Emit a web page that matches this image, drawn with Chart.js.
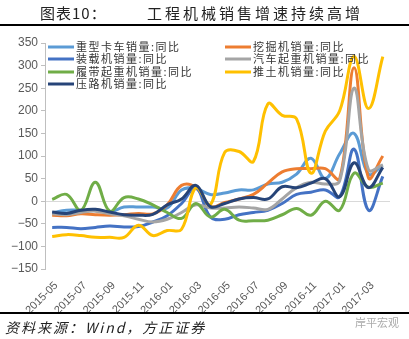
<!DOCTYPE html>
<html>
<head>
<meta charset="utf-8">
<script src="https://cdn.jsdelivr.net/npm/chart.js@4.4.1/dist/chart.umd.min.js"></script>
<style>
  html, body { margin: 0; padding: 0; background: #fff; }
  #wrap { position: relative; width: 409px; height: 339px; overflow: hidden; }
  #chart { position: absolute; left: 0; top: 0; }
  .t { position: absolute; font-family: "Noto Sans CJK SC", sans-serif; color: #222; white-space: nowrap; }
  #title1 { left: 40px; top: 2px; font-size: 15px; letter-spacing: 1px; }
  #title2 { left: 147px; top: 2px; font-size: 15px; letter-spacing: 3px; }
  .rule { position: absolute; left: 0; width: 409px; background: #000; }
  #src { left: 5px; top: 317px; font-size: 14px; font-style: italic; letter-spacing: 2px; }
  #mark { left: 355px; top: 314px; font-size: 11px; color: #aaa; }
</style>
</head>
<body>
<div id="wrap">
  <canvas id="chart" width="409" height="339"></canvas>
  <div class="t" id="title1">图表10：</div>
  <div class="t" id="title2">工程机械销售增速持续高增</div>
  <div class="rule" style="top:24px;height:2px"></div>
  <div class="rule" style="top:312px;height:2px"></div>
  <div class="t" id="src">资料来源：Wind，方正证券</div>
  <div class="t" id="mark">岸平宏观</div>
</div>
<script>
// 月份 2015-05 ~ 2017-04
const months = [
  '2015-05', '2015-06', '2015-07', '2015-08', '2015-09', '2015-10',
  '2015-11', '2015-12', '2016-01', '2016-02', '2016-03', '2016-04',
  '2016-05', '2016-06', '2016-07', '2016-08', '2016-09', '2016-10',
  '2016-11', '2016-12', '2017-01', '2017-02', '2017-03', '2017-04'
];

// 各机种销量同比(%)
const heavyTruck = [-26, -20, -20, -20, -24, -13, -13, -13, -15, 25, 28, 15, 18, 25, 25, 38, 42, 60, 95, 50, 105, 150, 60, 80];
const excavator  = [-31, -32, -28, -30, -31, -30, -27, -28, -8, 35, 30, -12, -3, 5, 15, 40, 65, 72, 72, 72, 50, 295, 52, 100];
const loader     = [-58, -58, -61, -58, -55, -57, -56, -46, -32, -5, 30, -35, -40, -30, -25, -20, -5, 15, 20, 25, 10, 115, -20, 55];
const truckCrane = [-28, -30, -25, -22, -28, -32, -40, -46, -40, -25, -8, -15, -15, -13, -15, -18, 5, 30, 42, 38, 45, 250, 70, 80];
const crawlerCrane = [4, 15, -20, 42, -22, 8, 5, -8, -25, -38, -5, -35, -18, -42, -43, -42, -30, -16, -31, 0, -20, 62, 31, 40];
const bulldozer  = [-78, -74, -76, -80, -80, -80, -53, -76, -65, -62, 30, -8, 108, 110, 88, 215, 190, 182, 62, 155, 200, 320, 205, 320];
const roller     = [-24, -27, -20, -18, -24, -30, -31, -29, -8, 5, 35, -12, -5, 5, 8, 5, 32, 30, 40, 50, 10, 85, 30, 75];

const seriesNames = [
  '重型卡车销量:同比', '挖掘机销量:同比', '装载机销量:同比', '汽车起重机销量:同比',
  '履带起重机销量:同比', '推土机销量:同比', '压路机销量:同比'
];
const seriesData = [heavyTruck, excavator, loader, truckCrane, crawlerCrane, bulldozer, roller];
const seriesColors = ['#5B9BD5', '#ED7D31', '#4472C4', '#A5A5A5', '#70AD47', '#FFC000', '#264478'];

// y 轴刻度
const yMin = -150, yMax = 350, yStep = 50;

// 图例两列，行序与 Excel 一致
const legendSlots = [
  [48, 47], [225, 47], [48, 59], [225, 59], [48, 72], [225, 72], [48, 84]
];

const legendPlugin = {
  id: 'twoColLegend',
  afterDraw(chart) {
    const ctx = chart.ctx;
    ctx.save();
    ctx.font = '11px "Noto Sans CJK SC"';
    ctx.letterSpacing = '1.5px';
    ctx.textBaseline = 'middle';
    chart.data.datasets.forEach((ds, i) => {
      const [x, y] = legendSlots[i];
      ctx.strokeStyle = ds.borderColor;
      ctx.lineWidth = 3;
      ctx.beginPath();
      ctx.moveTo(x, y);
      ctx.lineTo(x + 26, y);
      ctx.stroke();
      ctx.fillStyle = '#333';
      ctx.fillText(ds.label, x + 28, y);
    });
    ctx.restore();
  }
};

new Chart(document.getElementById('chart'), {
  type: 'line',
  data: {
    labels: months,
    datasets: seriesData.map((d, i) => ({
      label: seriesNames[i],
      data: d,
      borderColor: seriesColors[i],
      backgroundColor: seriesColors[i],
      borderWidth: 3,
      tension: 0.4,
      pointRadius: 0,
      fill: false,
      order: seriesData.length - i
    }))
  },
  options: {
    responsive: false,
    animation: false,
    layout: { padding: { top: 43, left: 0, right: 19, bottom: 26 } },
    plugins: {
      legend: { display: false },
      tooltip: { enabled: false }
    },
    scales: {
      x: {
        offset: true,
        grid: { display: false },
        border: { display: false },
        ticks: {
          autoSkip: false,
          maxRotation: 45,
          minRotation: 45,
          padding: 2,
          labelOffset: 4,
          color: '#595959',
          font: { family: 'Liberation Sans', size: 11 },
          callback: function(val, idx) {
            return idx % 2 === 0 ? this.getLabelForValue(val) : '';
          }
        },
        afterFit(scale) { scale.height = 44; }
      },
      y: {
        min: yMin,
        max: yMax,
        ticks: {
          stepSize: yStep,
          color: '#595959',
          padding: 3,
          font: { family: 'Liberation Sans', size: 12 },
          callback: v => (v < 0 ? '\u2212' + Math.abs(v) : v)
        },
        grid: {
          color: c => (c.tick && c.tick.value === 0 ? '#d9d9d9' : 'rgba(0,0,0,0)'),
          tickColor: '#bfbfbf',
          tickLength: 4
        },
        border: { display: true, color: '#bfbfbf' },
        afterFit(scale) { scale.width = 45; }
      }
    }
  },
  plugins: [legendPlugin]
});
</script>
</body>
</html>
